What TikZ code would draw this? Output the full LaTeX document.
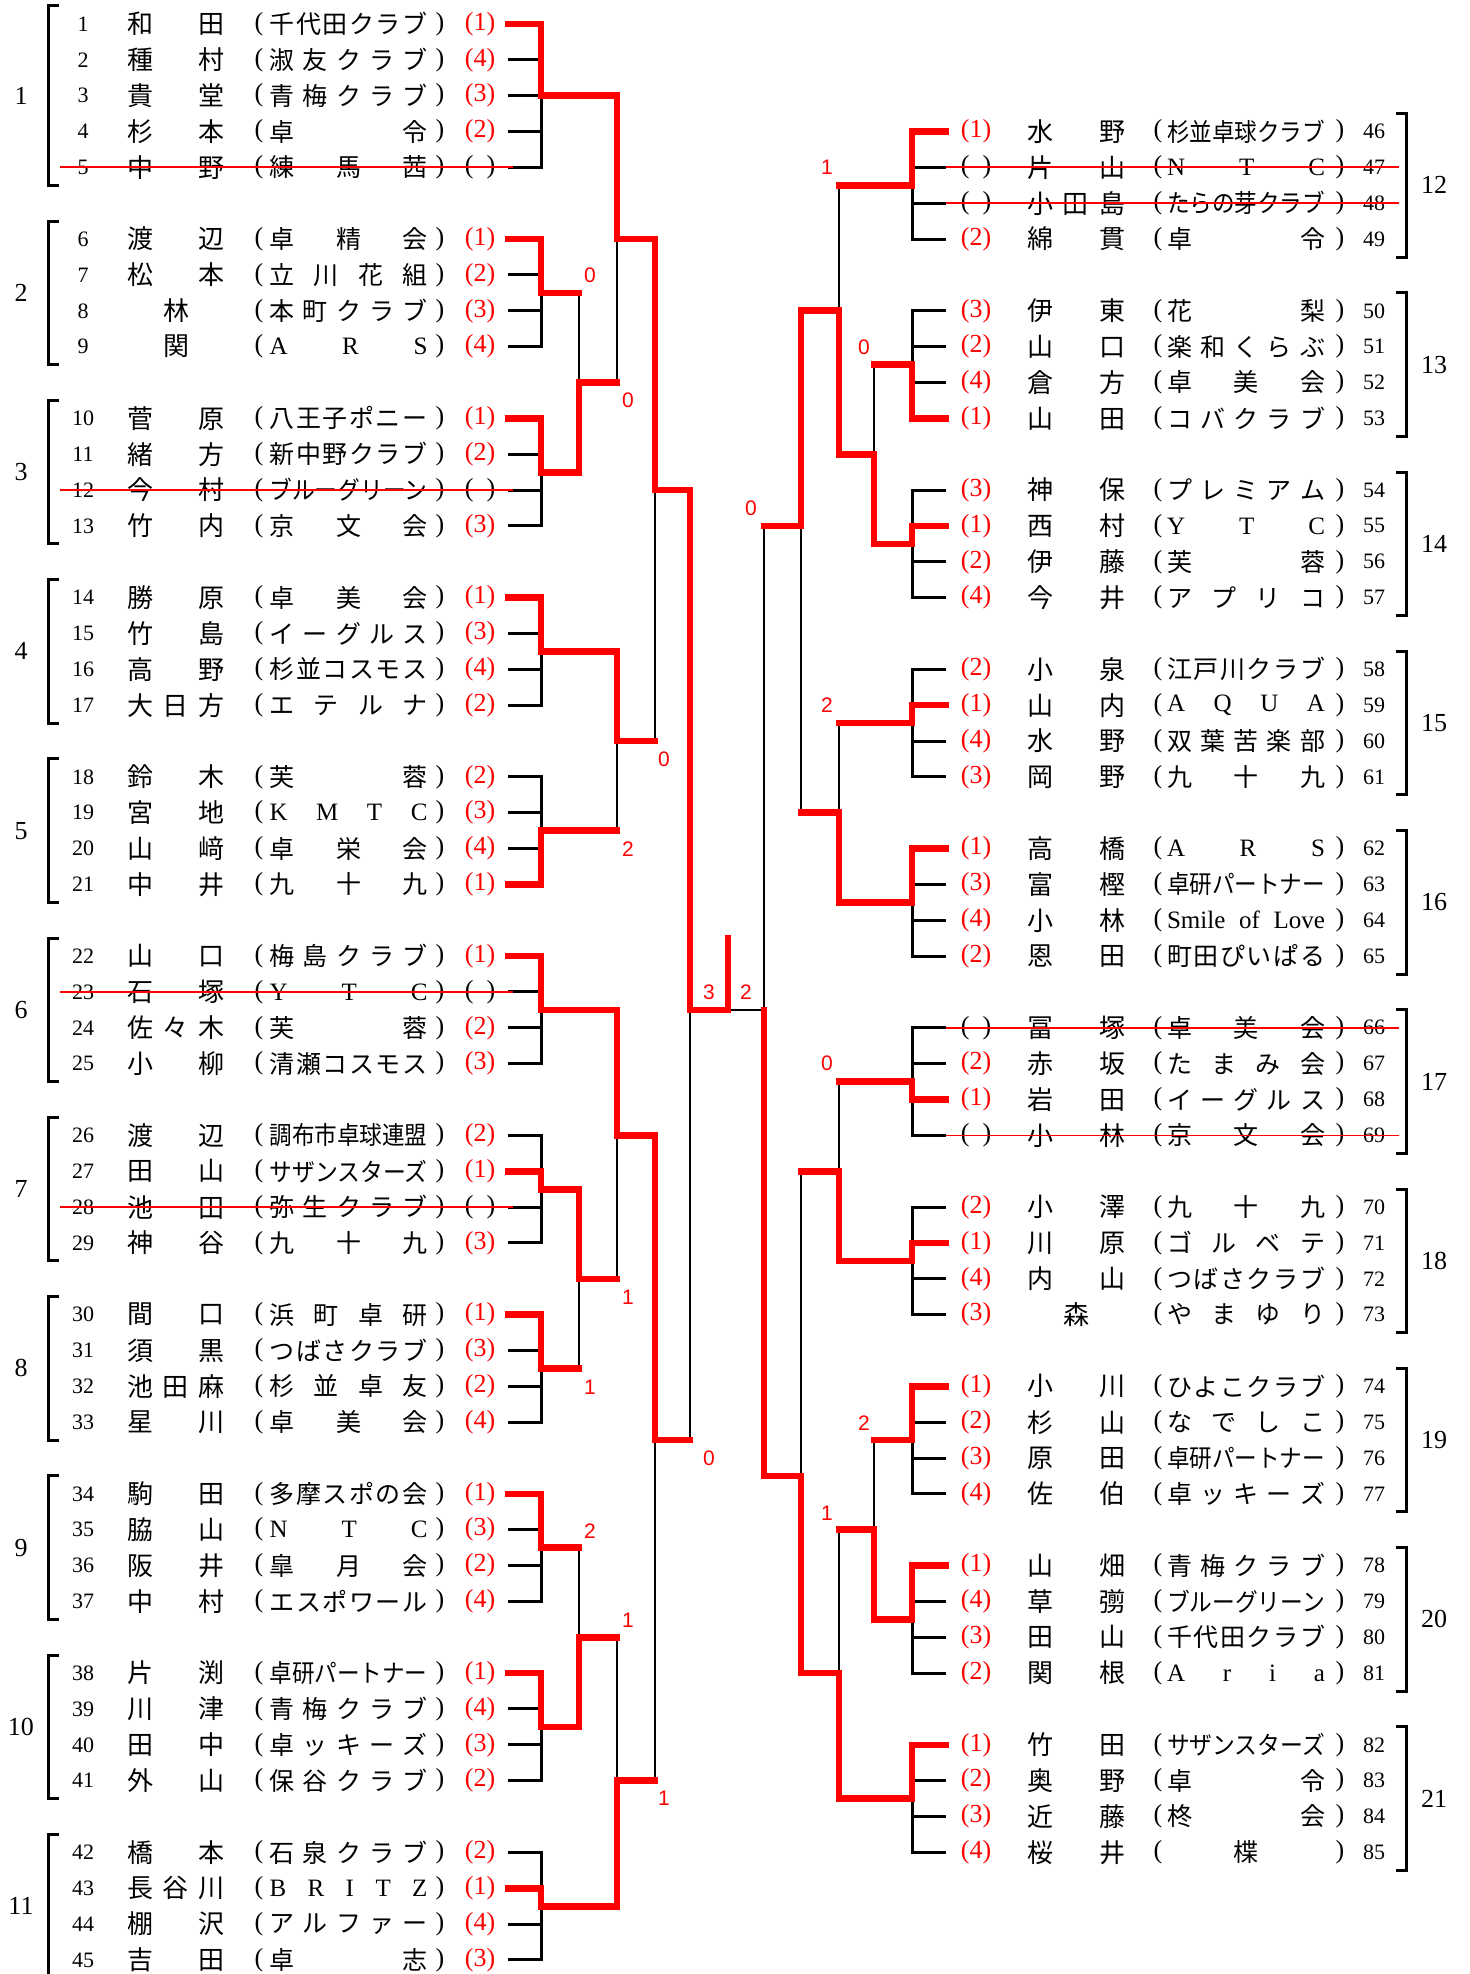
\documentclass[tikz,border=0pt]{standalone}
\usepackage{fontspec}
\setmainfont{Liberation Serif}
\newfontfamily\jp{Noto Sans CJK JP}
\newfontfamily\lsans{Liberation Sans}
\usepackage{graphicx}

\def\distrEnd{DISTREND}
\def\distribute#1{\distrA#1\distrEnd}
\def\distrA#1{#1\futurelet\dnext\distrB}
\def\distrB{\ifx\dnext\distrEnd\expandafter\distrStop\else\hfill\expandafter\distrA\fi}
\def\distrStop\distrEnd{}
\newcommand\spreadbox[2]{\hbox to #1{\hskip 0pt plus 0.001fil\distribute{#2}\hskip 0pt plus 0.001fil}}

\newcommand\C[1]{\spreadbox{79pt}{#1}}
\newcommand\CL[1]{{\rmfamily\spreadbox{79pt}{#1}}}
\newcommand\CC[1]{\resizebox{79pt}{\height}{#1}}
\newcommand\CS[1]{\hbox to 79pt{\rmfamily #1}}
\newcommand\resu[1]{\if\relax\detokenize{#1}\relax(\phantom{1})\else\textcolor{red}{(#1)}\fi}

\tikzset{
 numst/.style={font=\fontsize{11pt}{11pt}\selectfont, inner sep=0pt},
 nmst/.style={font=\jp\fontsize{13pt}{13pt}\selectfont, inner sep=0pt},
 clubst/.style={font=\jp\fontsize{12.5pt}{12.5pt}\selectfont, inner sep=0pt},
 parst/.style={font=\fontsize{13pt}{13pt}\selectfont, inner sep=0pt},
 resst/.style={font=\fontsize{13pt}{13pt}\selectfont, inner sep=0pt},
 grpst/.style={font=\fontsize{13pt}{13pt}\selectfont, inner sep=0pt},
 scst/.style={font=\lsans\fontsize{10.5pt}{10.5pt}\selectfont, text=red, inner sep=0pt},
 stubst/.style={line width=1.5pt},
 grpv/.style={line width=1.5pt, line cap=rect},
 brk/.style={line width=1.5pt},
 mv/.style={line width=1.1pt},
 win/.style={draw=red, line width=3.3pt, line cap=rect, line join=miter},
 strike/.style={draw=red, line width=0.9pt},
}

\newcommand\Lrow[5]{%
 \pgfmathsetmacro\yy{24+35.85*#2}
 \node[numst] (no#1) at (83,\yy) {#1};
 \node[nmst] (nm#1) at (176,\yy) {\spreadbox{49pt}{#3}};
 \node[parst] (pl#1) at (259,\yy) {(};
 \node[clubst] (cl#1) at (348.5,\yy) {#4};
 \node[parst] (pr#1) at (440,\yy) {)};
 \node[resst] (rs#1) at (480,\yy) {\resu{#5}};
 \coordinate (s#1) at (508,\yy);
 \coordinate (t#1) at (541,\yy);
 \draw[stubst] (s#1) -- (t#1);
}
\newcommand\Rrow[5]{%
 \pgfmathsetmacro\yy{24+35.85*#2}
 \node[resst] (rs#1) at (976,\yy) {\resu{#5}};
 \node[nmst] (nm#1) at (1076,\yy) {\spreadbox{49pt}{#3}};
 \node[parst] (pl#1) at (1158,\yy) {(};
 \node[clubst] (cl#1) at (1246,\yy) {#4};
 \node[parst] (pr#1) at (1340,\yy) {)};
 \node[numst] (no#1) at (1374,\yy) {#1};
 \coordinate (s#1) at (946,\yy);
 \coordinate (t#1) at (912,\yy);
 \draw[stubst] (s#1) -- (t#1);
}
\newcommand\Lgroup[3]{%
 \pgfmathsetmacro\ya{24+35.85*#2-18}
 \pgfmathsetmacro\yb{24+35.85*#3+18}
 \pgfmathsetmacro\ym{24+35.85*(#2+#3)/2}
 \pgfmathsetmacro\yc{24+35.85*#2}
 \pgfmathsetmacro\yd{24+35.85*#3}
 \draw[brk] (59,\ya) -- (48,\ya) -- (48,\yb) -- (59,\yb);
 \node[grpst] (g#1) at (21,\ym) {#1};
 \draw[grpv] (541,\yc) -- (541,\yd);
}
\newcommand\Rgroup[3]{%
 \pgfmathsetmacro\ya{24+35.85*#2-18}
 \pgfmathsetmacro\yb{24+35.85*#3+18}
 \pgfmathsetmacro\ym{24+35.85*(#2+#3)/2}
 \pgfmathsetmacro\yc{24+35.85*#2}
 \pgfmathsetmacro\yd{24+35.85*#3}
 \draw[brk] (1396,\ya) -- (1406,\ya) -- (1406,\yb) -- (1396,\yb);
 \node[grpst] (g#1) at (1434,\ym) {#1};
 \draw[grpv] (912,\yc) -- (912,\yd);
}

\begin{document}
\begin{tikzpicture}[x=0.5pt,y=-0.5pt]
\useasboundingbox (0,0) rectangle (1470,1974);

% ---------- groups ----------
\Lgroup{1}{0}{4}
\Lgroup{2}{6}{9}
\Lgroup{3}{11}{14}
\Lgroup{4}{16}{19}
\Lgroup{5}{21}{24}
\Lgroup{6}{26}{29}
\Lgroup{7}{31}{34}
\Lgroup{8}{36}{39}
\Lgroup{9}{41}{44}
\Lgroup{10}{46}{49}
\Lgroup{11}{51}{54}
\Rgroup{12}{3}{6}
\Rgroup{13}{8}{11}
\Rgroup{14}{13}{16}
\Rgroup{15}{18}{21}
\Rgroup{16}{23}{26}
\Rgroup{17}{28}{31}
\Rgroup{18}{33}{36}
\Rgroup{19}{38}{41}
\Rgroup{20}{43}{46}
\Rgroup{21}{48}{51}

% ---------- rows ----------
\Lrow{1}{0}{和田}{\C{千代田クラブ}}{1}
\Lrow{2}{1}{種村}{\C{淑友クラブ}}{4}
\Lrow{3}{2}{貴堂}{\C{青梅クラブ}}{3}
\Lrow{4}{3}{杉本}{\C{卓令}}{2}
\Lrow{5}{4}{中野}{\C{練馬茜}}{}
\Lrow{6}{6}{渡辺}{\C{卓精会}}{1}
\Lrow{7}{7}{松本}{\C{立川花組}}{2}
\Lrow{8}{8}{林}{\C{本町クラブ}}{3}
\Lrow{9}{9}{関}{\CL{ARS}}{4}
\Lrow{10}{11}{菅原}{\C{八王子ポニー}}{1}
\Lrow{11}{12}{緒方}{\C{新中野クラブ}}{2}
\Lrow{12}{13}{今村}{\CC{ブルーグリーン}}{}
\Lrow{13}{14}{竹内}{\C{京文会}}{3}
\Lrow{14}{16}{勝原}{\C{卓美会}}{1}
\Lrow{15}{17}{竹島}{\C{イーグルス}}{3}
\Lrow{16}{18}{高野}{\C{杉並コスモス}}{4}
\Lrow{17}{19}{大日方}{\C{エテルナ}}{2}
\Lrow{18}{21}{鈴木}{\C{芙蓉}}{2}
\Lrow{19}{22}{宮地}{\CL{KMTC}}{3}
\Lrow{20}{23}{山﨑}{\C{卓栄会}}{4}
\Lrow{21}{24}{中井}{\C{九十九}}{1}
\Lrow{22}{26}{山口}{\C{梅島クラブ}}{1}
\Lrow{23}{27}{石塚}{\CL{YTC}}{}
\Lrow{24}{28}{佐々木}{\C{芙蓉}}{2}
\Lrow{25}{29}{小柳}{\C{清瀬コスモス}}{3}
\Lrow{26}{31}{渡辺}{\CC{調布市卓球連盟}}{2}
\Lrow{27}{32}{田山}{\CC{サザンスターズ}}{1}
\Lrow{28}{33}{池田}{\C{弥生クラブ}}{}
\Lrow{29}{34}{神谷}{\C{九十九}}{3}
\Lrow{30}{36}{間口}{\C{浜町卓研}}{1}
\Lrow{31}{37}{須黒}{\C{つばさクラブ}}{3}
\Lrow{32}{38}{池田麻}{\C{杉並卓友}}{2}
\Lrow{33}{39}{星川}{\C{卓美会}}{4}
\Lrow{34}{41}{駒田}{\C{多摩スポの会}}{1}
\Lrow{35}{42}{脇山}{\CL{NTC}}{3}
\Lrow{36}{43}{阪井}{\C{皐月会}}{2}
\Lrow{37}{44}{中村}{\C{エスポワール}}{4}
\Lrow{38}{46}{片渕}{\CC{卓研パートナー}}{1}
\Lrow{39}{47}{川津}{\C{青梅クラブ}}{4}
\Lrow{40}{48}{田中}{\C{卓ッキーズ}}{3}
\Lrow{41}{49}{外山}{\C{保谷クラブ}}{2}
\Lrow{42}{51}{橋本}{\C{石泉クラブ}}{2}
\Lrow{43}{52}{長谷川}{\CL{BRITZ}}{1}
\Lrow{44}{53}{棚沢}{\C{アルファー}}{4}
\Lrow{45}{54}{吉田}{\C{卓志}}{3}

\Rrow{46}{3}{水野}{\CC{杉並卓球クラブ}}{1}
\Rrow{47}{4}{片山}{\CL{NTC}}{}
\Rrow{48}{5}{小田島}{\CC{たらの芽クラブ}}{}
\Rrow{49}{6}{綿貫}{\C{卓令}}{2}
\Rrow{50}{8}{伊東}{\C{花梨}}{3}
\Rrow{51}{9}{山口}{\C{楽和くらぶ}}{2}
\Rrow{52}{10}{倉方}{\C{卓美会}}{4}
\Rrow{53}{11}{山田}{\C{コバクラブ}}{1}
\Rrow{54}{13}{神保}{\C{プレミアム}}{3}
\Rrow{55}{14}{西村}{\CL{YTC}}{1}
\Rrow{56}{15}{伊藤}{\C{芙蓉}}{2}
\Rrow{57}{16}{今井}{\C{アプリコ}}{4}
\Rrow{58}{18}{小泉}{\C{江戸川クラブ}}{2}
\Rrow{59}{19}{山内}{\CL{AQUA}}{1}
\Rrow{60}{20}{水野}{\C{双葉苦楽部}}{4}
\Rrow{61}{21}{岡野}{\C{九十九}}{3}
\Rrow{62}{23}{高橋}{\CL{ARS}}{1}
\Rrow{63}{24}{富樫}{\CC{卓研パートナー}}{3}
\Rrow{64}{25}{小林}{\CS{Smile\hfill of\hfill Love}}{4}
\Rrow{65}{26}{恩田}{\C{町田ぴいぱる}}{2}
\Rrow{66}{28}{冨塚}{\C{卓美会}}{}
\Rrow{67}{29}{赤坂}{\C{たまみ会}}{2}
\Rrow{68}{30}{岩田}{\C{イーグルス}}{1}
\Rrow{69}{31}{小林}{\C{京文会}}{}
\Rrow{70}{33}{小澤}{\C{九十九}}{2}
\Rrow{71}{34}{川原}{\C{ゴルベテ}}{1}
\Rrow{72}{35}{内山}{\C{つばさクラブ}}{4}
\Rrow{73}{36}{森}{\C{やまゆり}}{3}
\Rrow{74}{38}{小川}{\C{ひよこクラブ}}{1}
\Rrow{75}{39}{杉山}{\C{なでしこ}}{2}
\Rrow{76}{40}{原田}{\CC{卓研パートナー}}{3}
\Rrow{77}{41}{佐伯}{\C{卓ッキーズ}}{4}
\Rrow{78}{43}{山畑}{\C{青梅クラブ}}{1}
\Rrow{79}{44}{草彅}{\CC{ブルーグリーン}}{4}
\Rrow{80}{45}{田山}{\C{千代田クラブ}}{3}
\Rrow{81}{46}{関根}{\CL{Aria}}{2}
\Rrow{82}{48}{竹田}{\CC{サザンスターズ}}{1}
\Rrow{83}{49}{奥野}{\C{卓令}}{2}
\Rrow{84}{50}{近藤}{\C{柊会}}{3}
\Rrow{85}{51}{桜井}{\C{楪}}{4}

% ---------- black match lines ----------
\draw[mv] (579,292.9) -- (579,472.2);
\draw[mv] (617,95.7) -- (617,382.5);
\draw[mv] (617,651.4) -- (617,830.6);
\draw[mv] (655,239.1) -- (655,741);
\draw[mv] (579,1189.2) -- (579,1368.4);
\draw[mv] (617,1009.9) -- (617,1278.8);
\draw[mv] (579,1547.7) -- (579,1726.9);
\draw[mv] (617,1637.3) -- (617,1906.2);
\draw[mv] (655,1135.4) -- (655,1780.7);
\draw[mv] (690,490.1) -- (690,1440.1);
\draw[mv] (874,364.6) -- (874,543.8);
\draw[mv] (839,185.3) -- (839,454.2);
\draw[mv] (839,723.1) -- (839,902.3);
\draw[mv] (801,310.8) -- (801,812.7);
\draw[mv] (839,1081.6) -- (839,1260.8);
\draw[mv] (874,1440.1) -- (874,1619.3);
\draw[mv] (839,1529.7) -- (839,1798.6);
\draw[mv] (801,1171.2) -- (801,1673.1);
\draw[mv] (764,525.9) -- (764,1475.9);
\coordinate (fl) at (728,1009.9);
\coordinate (fr) at (764,1009.9);
\draw[mv] (fl) -- (fr);

% ---------- red winner paths ----------
\draw[win] (s1) -- (t1) -- (541,95.7) -- (617,95.7) -- (617,239.1) -- (655,239.1) -- (655,490.1) -- (690,490.1) -- (690,1009.9) -- (fl) -- (728,938);
\draw[win] (s6) -- (t6) -- (541,292.9) -- (579,292.9);
\draw[win] (s10) -- (t10) -- (541,472.2) -- (579,472.2) -- (579,382.5) -- (617,382.5);
\draw[win] (s14) -- (t14) -- (541,651.4) -- (617,651.4) -- (617,741) -- (655,741);
\draw[win] (s21) -- (t21) -- (541,830.6) -- (617,830.6);
\draw[win] (s22) -- (t22) -- (541,1009.9) -- (617,1009.9) -- (617,1135.4) -- (655,1135.4) -- (655,1440.1) -- (690,1440.1);
\draw[win] (s27) -- (t27) -- (541,1189.2) -- (579,1189.2) -- (579,1278.8) -- (617,1278.8);
\draw[win] (s30) -- (t30) -- (541,1368.4) -- (579,1368.4);
\draw[win] (s34) -- (t34) -- (541,1547.7) -- (579,1547.7);
\draw[win] (s38) -- (t38) -- (541,1726.9) -- (579,1726.9) -- (579,1637.3) -- (617,1637.3);
\draw[win] (s43) -- (t43) -- (541,1906.2) -- (617,1906.2) -- (617,1780.7) -- (655,1780.7);

\draw[win] (s46) -- (t46) -- (912,185.3) -- (839,185.3);
\draw[win] (s53) -- (t53) -- (912,364.6) -- (874,364.6);
\draw[win] (s55) -- (t55) -- (912,543.8) -- (874,543.8) -- (874,454.2) -- (839,454.2) -- (839,310.8) -- (801,310.8) -- (801,525.9) -- (764,525.9);
\draw[win] (s59) -- (t59) -- (912,723.1) -- (839,723.1);
\draw[win] (s62) -- (t62) -- (912,902.3) -- (839,902.3) -- (839,812.7) -- (801,812.7);
\draw[win] (s68) -- (t68) -- (912,1081.6) -- (839,1081.6);
\draw[win] (s71) -- (t71) -- (912,1260.8) -- (839,1260.8) -- (839,1171.2) -- (801,1171.2);
\draw[win] (s74) -- (t74) -- (912,1440.1) -- (874,1440.1);
\draw[win] (s78) -- (t78) -- (912,1619.3) -- (874,1619.3) -- (874,1529.7) -- (839,1529.7);
\draw[win] (s82) -- (t82) -- (912,1798.6) -- (839,1798.6) -- (839,1673.1) -- (801,1673.1) -- (801,1475.9) -- (764,1475.9) -- (fr);

% ---------- strike-throughs ----------
\draw[strike] (60,167.4) -- (513,167.4);
\draw[strike] (60,490.1) -- (513,490.1);
\draw[strike] (60,992.0) -- (513,992.0);
\draw[strike] (60,1207.1) -- (513,1207.1);
\draw[strike] (946,167.4) -- (1399,167.4);
\draw[strike] (946,203.3) -- (1399,203.3);
\draw[strike] (946,1027.8) -- (1399,1027.8);
\draw[strike] (946,1135.4) -- (1399,1135.4);

% ---------- scores ----------
\node[scst] (sc1) at (590,275) {0};
\node[scst] (sc2) at (628,400) {0};
\node[scst] (sc3) at (664,759) {0};
\node[scst] (sc4) at (628,849) {2};
\node[scst] (sc5) at (628,1297) {1};
\node[scst] (sc6) at (590,1387) {1};
\node[scst] (sc7) at (709,1458) {0};
\node[scst] (sc8) at (590,1531) {2};
\node[scst] (sc9) at (628,1620) {1};
\node[scst] (sc10) at (664,1798) {1};
\node[scst] (sc11) at (709,992) {3};
\node[scst] (sc12) at (746,992) {2};
\node[scst] (sc13) at (827,167) {1};
\node[scst] (sc14) at (864,347) {0};
\node[scst] (sc15) at (751,508) {0};
\node[scst] (sc16) at (827,705) {2};
\node[scst] (sc17) at (827,1063) {0};
\node[scst] (sc18) at (864,1423) {2};
\node[scst] (sc19) at (827,1513) {1};
\end{tikzpicture}
\end{document}
